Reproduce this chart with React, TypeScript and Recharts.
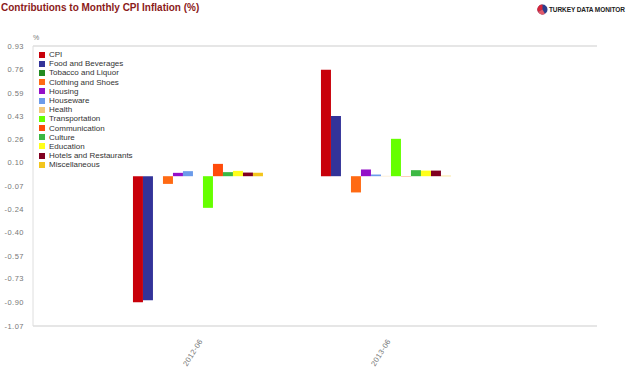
import React from 'react';
import { BarChart, Bar, XAxis, YAxis, CartesianGrid } from 'recharts';

const periods = ['2012-06', '2013-06'];

const seriesNames = [
  'CPI',
  'Food and Beverages',
  'Tobacco and Liquor',
  'Clothing and Shoes',
  'Housing',
  'Houseware',
  'Health',
  'Transportation',
  'Communication',
  'Culture',
  'Education',
  'Hotels and Restaurants',
  'Miscellaneous',
];

const seriesColors = [
  '#c8000a',
  '#333399',
  '#228b22',
  '#ff6a13',
  '#9410c8',
  '#6b9bea',
  '#f2c77a',
  '#66ff00',
  '#ff4b0a',
  '#3cb843',
  '#ffff1a',
  '#800020',
  '#f3c51c',
];

// values per series, one entry per period
const cpi = [-0.9, 0.76];
const food = [-0.886, 0.43];
const tobacco = [0, 0];
const clothing = [-0.055, -0.116];
const housing = [0.024, 0.048];
const houseware = [0.036, 0.012];
const health = [0, 0.002];
const transportation = [-0.226, 0.267];
const communication = [0.088, -0.002];
const culture = [0.029, 0.043];
const education = [0.038, 0.04];
const hotels = [0.026, 0.04];
const misc = [0.025, 0.003];

const seriesValues = [
  cpi, food, tobacco, clothing, housing, houseware, health,
  transportation, communication, culture, education, hotels, misc,
];

const yTicks = [0.93, 0.76, 0.59, 0.43, 0.26, 0.1, -0.07, -0.24, -0.4, -0.57, -0.73, -0.9, -1.07];

const data = periods.map((p, i) => {
  const row: any = { period: p };
  seriesNames.forEach((name, s) => {
    row[name] = seriesValues[s][i];
  });
  return row;
});

const FONT = 'Arial, "Liberation Sans", sans-serif';

const XTick = (props: any) => {
  const { x, y, payload } = props;
  return (
    <g transform={`translate(${x + 8},${y + 7})`}>
      <text
        x={0}
        y={0}
        textAnchor="end"
        transform="rotate(-58)"
        fontSize={7.5}
        fill="#777"
        fontFamily={FONT}
        letterSpacing={0.4}
      >
        {payload.value}
      </text>
    </g>
  );
};

const LegendBox = () => (
  <div style={{ position: 'absolute', left: 39, top: 50, fontFamily: FONT, fontSize: 8, color: '#333' }}>
    {seriesNames.map((name, i) => (
      <div key={name} style={{ display: 'flex', alignItems: 'center', height: 9.2, lineHeight: '9.2px' }}>
        <span style={{ width: 6, height: 6, background: seriesColors[i], marginRight: 4, display: 'inline-block' }} />
        <span>{name}</span>
      </div>
    ))}
  </div>
);

const App: React.FC = () => {
  return (
    <div style={{ position: 'absolute', left: 0, top: 0, width: 634, height: 372, background: '#fff', fontFamily: FONT }}>
      <div style={{ position: 'absolute', left: 1, top: 2, fontSize: 10, fontWeight: 'bold', color: '#8b1a1a' }}>
        Contributions to Monthly CPI Inflation (%)
      </div>
      <div style={{ position: 'absolute', left: 537, top: 4, display: 'flex', alignItems: 'center' }}>
        <svg width={11} height={11}>
          <circle cx={5.5} cy={5.5} r={5} fill="#2c3e8c" />
          <path d="M5.5 0.5 A5 5 0 0 0 1 8 L5.5 5.5 Z" fill="#d6263a" />
          <path d="M1 8 A5 5 0 0 0 8 10 L5.5 5.5 Z" fill="#e05a6a" />
        </svg>
        <span style={{ fontSize: 6.5, fontWeight: 'bold', color: '#222', marginLeft: 1, letterSpacing: -0.1 }}>
          TURKEY DATA MONITOR
        </span>
      </div>
      <div style={{ position: 'absolute', left: 33, top: 34, fontSize: 7, color: '#777' }}>%</div>
      <BarChart
        width={634}
        height={372}
        data={data}
        margin={{ top: 46, right: 37, bottom: 0, left: 0 }}
        barCategoryGap="17%"
        barGap={0}
      >
        <CartesianGrid vertical={false} stroke="#dedede" strokeWidth={1.5} />
        <XAxis
          dataKey="period"
          height={46}
          padding={{ left: 68, right: 120 }}
          axisLine={false}
          tickLine={false}
          tick={<XTick />}
          interval={0}
        />
        <YAxis
          yAxisId="left"
          width={33}
          domain={[-1.07, 0.93]}
          ticks={yTicks}
          interval={0}
          tickFormatter={(v: number) => v.toFixed(2)}
          axisLine={{ stroke: '#dedede' }}
          tickLine={false}
          tick={{ fontSize: 7.5, fill: '#777', fontFamily: FONT, letterSpacing: 0.5 }}
          tickMargin={3}
        />
        <YAxis
          yAxisId="right"
          orientation="right"
          width={0}
          domain={[-1.07, 0.93]}
          ticks={yTicks}
          tick={false}
          tickLine={false}
          axisLine={{ stroke: '#dedede', strokeWidth: 1.5 }}
        />
        {seriesNames.map((name, i) => (
          <Bar
            key={name}
            yAxisId="left"
            dataKey={name}
            fill={seriesColors[i]}
            isAnimationActive={false}
          />
        ))}
      </BarChart>
      <LegendBox />
    </div>
  );
};

export default App;
